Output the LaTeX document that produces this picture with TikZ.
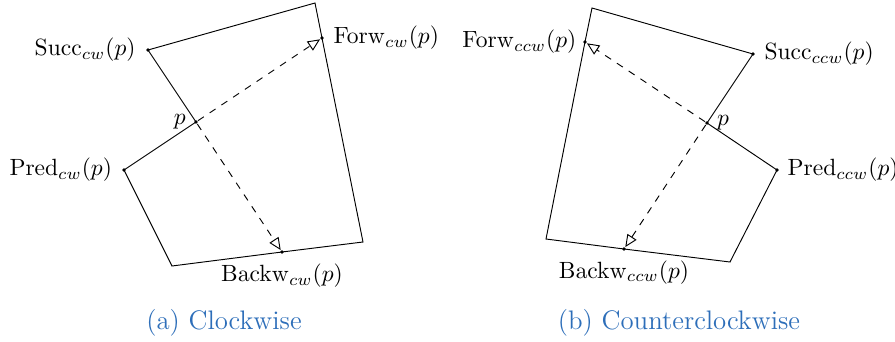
\documentclass[tikz,border=0pt]{standalone}
\usetikzlibrary{positioning,arrows.meta}
\definecolor{capblue}{RGB}{45,110,185}
\begin{document}
\begin{tikzpicture}[x=0.4255pt, y=-0.4255pt,
    dot/.style={circle, fill, inner sep=0pt, minimum size=1.6pt},
    walk/.style={dashed, -{Triangle[open, length=5.2pt, width=4.6pt]}},
    caption/.style={text=capblue, font=\fontsize{11.4}{13}\selectfont}]
\useasboundingbox (0,0) rectangle (895,342);
% (a) clockwise
\foreach \n/\x/\y in {ca/315/3, cb/363/242, cc/172/266} {
    \coordinate (\n) at (\x,\y);
}
\foreach \n/\x/\y in {s1/148/50, f1/322/38, b1/282/252, r1/124/170, p1/196/122} {
    \node[dot] (\n) at (\x,\y) {};
}
\draw (s1.center) -- (ca) -- (f1.center) -- (cb) -- (b1.center) -- (cc) -- (r1.center) -- (p1.center) -- cycle;
\draw[walk] (p1) -- (f1);
\draw[walk] (p1) -- (b1);
\node[left=0.8pt of s1] (ls1) {$\mathrm{Succ}_{cw}(p)$};
\node[right=0.4pt of f1] (lf1) {$\mathrm{Forw}_{cw}(p)$};
\node[left=0.6pt of r1] (lr1) {$\mathrm{Pred}_{cw}(p)$};
\node[below=0.6pt of b1] (lb1) {$\mathrm{Backw}_{cw}(p)$};
\node[left=-0.2pt of p1] (lp1) {$p$};
\node[caption] (cap1) at (224,323) {(a) Clockwise};
% (b) counterclockwise
\foreach \n/\x/\y in {da/592/8, db/546/239, dc/730/262} {
    \coordinate (\n) at (\x,\y);
}
\foreach \n/\x/\y in {s2/753/54, f2/585/42, b2/624/249, r2/777/170, p2/707/123} {
    \node[dot] (\n) at (\x,\y) {};
}
\draw (s2.center) -- (da) -- (f2.center) -- (db) -- (b2.center) -- (dc) -- (r2.center) -- (p2.center) -- cycle;
\draw[walk] (p2) -- (f2);
\draw[walk] (p2) -- (b2);
\node[right=0.4pt of s2] (ls2) {$\mathrm{Succ}_{ccw}(p)$};
\node[left=-0.8pt of f2] (lf2) {$\mathrm{Forw}_{ccw}(p)$};
\node[right=0pt of r2] (lr2) {$\mathrm{Pred}_{ccw}(p)$};
\node[below=0.4pt of b2] (lb2) {$\mathrm{Backw}_{ccw}(p)$};
\node[right=-0.2pt of p2] (lp2) {$p$};
\node[caption] (cap2) at (679,323) {(b) Counterclockwise};
\end{tikzpicture}
\end{document}
